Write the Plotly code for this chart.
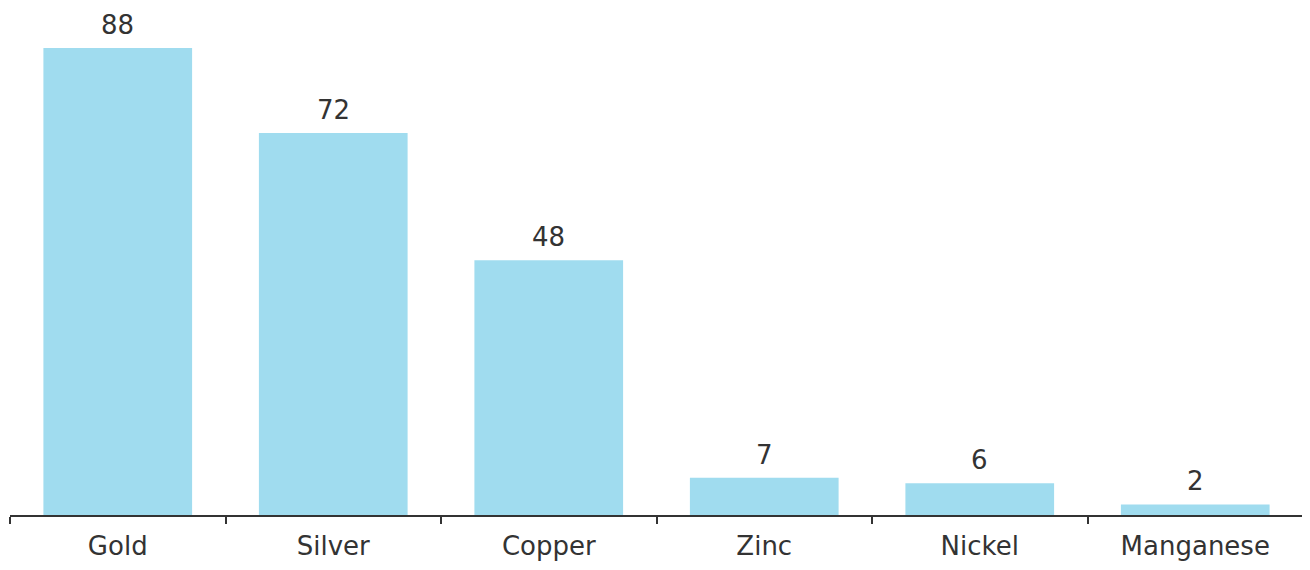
import plotly.graph_objects as go

categories = ["Gold", "Silver", "Copper", "Zinc", "Nickel", "Manganese"]
values = [88, 72, 48, 7, 6, 2]

bar_color = "#a0dcef"
text_color = "#333333"
font_family = "DejaVu Sans, sans-serif"

fig = go.Figure()
fig.add_trace(go.Bar(
    x=categories,
    y=values,
    marker=dict(color=bar_color, line=dict(width=0)),
    width=0.69,
    hoverinfo="skip",
))

for c, v in zip(categories, values):
    fig.add_annotation(
        x=c, y=v, text=str(v), showarrow=False,
        yanchor="bottom", yshift=6,
        font=dict(size=26, color=text_color, family=font_family),
    )

fig.update_layout(
    width=1302, height=562,
    margin=dict(l=2, r=7, t=12, b=55),
    plot_bgcolor="white", paper_bgcolor="white",
    showlegend=False,
    font=dict(family=font_family, color=text_color, size=26),
    xaxis=dict(
        type="category",
        range=[-0.5, 5.5],
        automargin=False,
        tickson="boundaries",
        ticks="outside", ticklen=7, tickwidth=1.5, tickcolor="#333333",
        showline=True, linecolor="#333333", linewidth=1.5,
        showgrid=False,
        ticklabelstandoff=7,
        tickfont=dict(size=26, color=text_color, family=font_family),
    ),
    yaxis=dict(
        range=[0, 93.3],
        visible=False,
        showgrid=False, zeroline=False,
    ),
)

fig.write_html("out.html")
